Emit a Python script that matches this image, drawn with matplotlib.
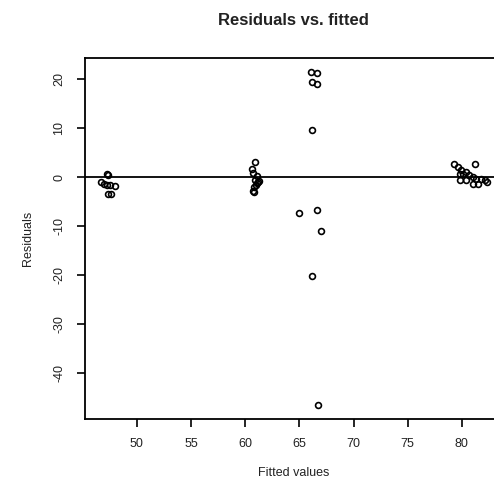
import numpy as np
import matplotlib
matplotlib.use("Agg")
import matplotlib.pyplot as plt

# fitted values and residuals
fitted_47 = [47.2, 47.3, 46.7, 47.0, 47.2, 47.5, 48.0, 47.3, 47.6]
resid_47 = [0.75, 0.4, -1.0, -1.3, -1.6, -1.6, -1.8, -3.3, -3.5]

fitted_61 = [60.9, 60.6, 60.7, 61.1, 60.9, 61.2, 61.0, 60.8, 61.3, 60.7, 60.8, 61.1]
resid_61 = [3.1, 1.6, 0.8, 0.2, -0.5, -1.0, -1.5, -2.0, -0.8, -2.8, -3.0, -1.2]

fitted_66 = [66.1, 66.6, 66.2, 66.6, 66.2, 65.0, 66.6, 67.0, 66.2, 66.7]
resid_66 = [21.5, 21.2, 19.4, 19.1, 9.6, -7.2, -6.6, -11.0, -20.2, -46.5]

fitted_80 = [79.3, 79.6, 79.9, 79.8, 80.1, 80.4, 80.7, 81.2, 81.0, 81.3,
             80.4, 79.8, 81.0, 81.5, 82.1, 82.3, 81.8]
resid_80 = [2.8, 2.1, 1.4, 0.75, 0.75, 1.1, 0.4, 2.8, 0.1, -0.3,
            -0.6, -0.6, -1.3, -1.3, -0.6, -1.0, -0.3]

fitted = np.array(fitted_47 + fitted_61 + fitted_66 + fitted_80)
residuals = np.array(resid_47 + resid_61 + resid_66 + resid_80)

x_ticks = [50, 55, 60, 65, 70, 75, 80]
y_ticks = [20, 10, 0, -10, -20, -30, -40]

plt.rcParams["font.family"] = ["Liberation Sans", "DejaVu Sans"]

fig = plt.figure(figsize=(4.94, 4.93), dpi=100)
# right edge of the box runs past the image, as in the reference
ax = fig.add_axes([0.172, 0.150, 0.844, 0.732])

ax.plot(fitted, residuals, "o", mfc="none", mec="black", ms=4.2, mew=1.2)
ax.axhline(0, color="black", lw=1.3)

ax.set_xlim(45.2, 83.7)
ax.set_ylim(-49.3, 24.3)
ax.set_xticks(x_ticks)
ax.set_yticks(y_ticks)
ax.set_yticklabels([str(v) for v in y_ticks], rotation=90, va="center")
ax.tick_params(axis="both", direction="out", length=6, width=1.2, labelsize=9,
               pad=8, labelcolor="#222222")
for s in ax.spines.values():
    s.set_linewidth(1.3)

ax.set_xlabel("Fitted values", fontsize=9, labelpad=12, color="#222222")
ax.set_ylabel("Residuals", fontsize=9, labelpad=14, color="#222222")
fig.text(0.593, 0.958, "Residuals vs. fitted", ha="center", va="center",
         fontsize=12, fontweight="bold", color="#222222")

fig.savefig("out.png", dpi=100)
